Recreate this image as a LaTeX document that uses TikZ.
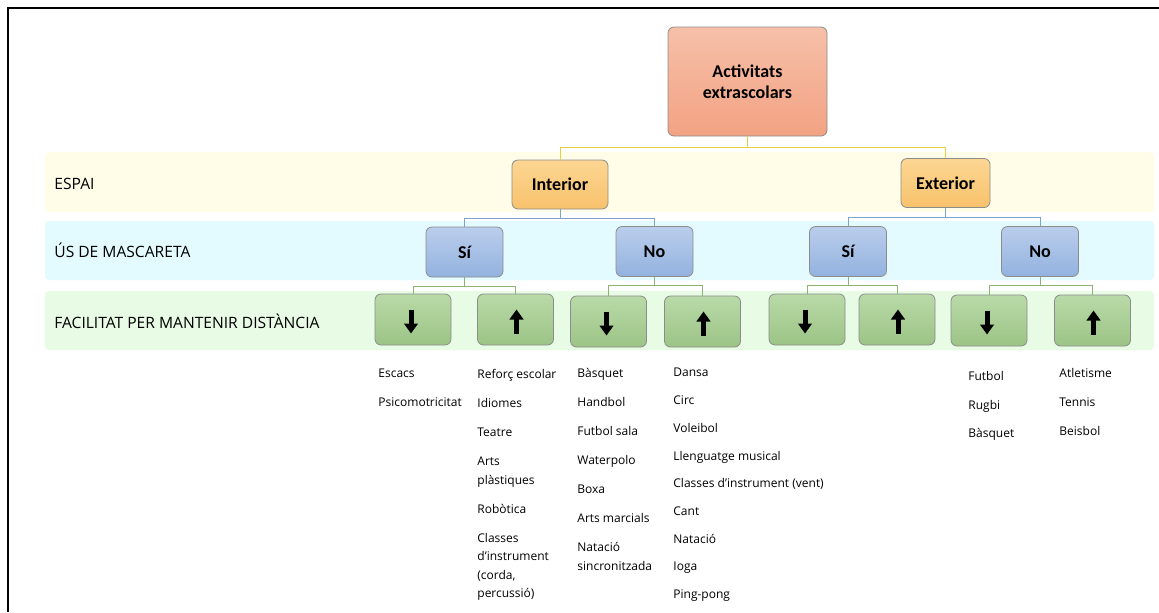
\documentclass[tikz,border=0pt]{standalone}
\usepackage{fontspec}
\setmainfont{Open Sans}
\newfontfamily\boxfont{Carlito}
\usetikzlibrary{calc,arrows.meta}

\definecolor{yband}{HTML}{FFFDE8}
\definecolor{bband}{HTML}{E3FBFE}
\definecolor{gband}{HTML}{E8FBE5}
\definecolor{rootA}{HTML}{F6C0A9}
\definecolor{rootB}{HTML}{F3A283}
\definecolor{orA}{HTML}{FCD693}
\definecolor{orB}{HTML}{F8C26C}
\definecolor{blA}{HTML}{BACEEC}
\definecolor{blB}{HTML}{93B2DF}
\definecolor{grA}{HTML}{B9DAA8}
\definecolor{grB}{HTML}{9CC486}
\definecolor{ylink}{HTML}{E5CF45}
\definecolor{blink}{HTML}{7DA4C8}
\definecolor{glink}{HTML}{8DB274}

\tikzset{
  box/.style={draw=black!45, line width=0.4pt, rounded corners=3pt, inner sep=0pt,
    align=center, font=\boxfont\bfseries\fontsize{9}{10.5}\selectfont},
  rootbox/.style={box, minimum width=79.5pt, minimum height=54.5pt, top color=rootA, bottom color=rootB},
  spacebox/.style={box, minimum height=24.5pt, top color=orA, bottom color=orB},
  maskbox/.style={box, minimum width=38.5pt, minimum height=25pt, top color=blA, bottom color=blB},
  distbox/.style={box, minimum width=38pt, minimum height=25.5pt, top color=grA, bottom color=grB},
  rowlabel/.style={anchor=west, inner sep=0pt, font=\fontsize{7.8}{9}\selectfont},
  actlist/.style={anchor=north west, inner sep=0pt, align=left, font=\fontsize{6}{9.25}\selectfont},
  fatarrow/.style={line width=2.5pt, -{Triangle[length=5pt,width=6.8pt]}},
}

\begin{document}
\begin{tikzpicture}[x=0.5pt,y=-0.5pt]
    \useasboundingbox (0,0) rectangle (1159,612);
    \draw[line width=1pt] (8,612)--(8,8)--(1159,8);

    % bands
    \fill[yband,rounded corners=2pt] (45,152) rectangle (1154,212);
    \fill[bband,rounded corners=2pt] (45,221) rectangle (1154,280);
    \fill[gband,rounded corners=2pt] (45,291) rectangle (1154,350);
    \node[rowlabel] (lespai) at (54,184) {ESPAI};
    \node[rowlabel] (lmask) at (54,250) {ÚS DE MASCARETA};
    \node[rowlabel] (ldist) at (54,321) {FACILITAT PER MANTENIR DISTÀNCIA};

    % tree
    \node[rootbox] (root) at (747.5,81.5) {Activitats\\extrascolars};
    \node[spacebox,minimum width=48pt] (int) at (560,184.5) {Interior};
    \node[spacebox,minimum width=44.5pt] (ext) at (945.5,183) {Exterior};
    \node[maskbox] (intS) at (464.5,252) {Sí};
    \node[maskbox] (intN) at (654.5,251.5) {No};
    \node[maskbox] (extS) at (848,251.5) {Sí};
    \node[maskbox] (extN) at (1040,251.5) {No};
    \node[distbox] (intSd) at (413,319.5) {};
    \node[distbox] (intSu) at (515.5,319.5) {};
    \node[distbox] (intNd) at (608.5,321.5) {};
    \node[distbox] (intNu) at (702.5,321.5) {};
    \node[distbox] (extSd) at (807,319.5) {};
    \node[distbox] (extSu) at (897,319.5) {};
    \node[distbox] (extNd) at (989,320.5) {};
    \node[distbox] (extNu) at (1092.5,320.5) {};

    \foreach \n in {int,ext}
      \draw[ylink] (root.south) -- ++(0,11) -| (\n.north);
    \foreach \p/\c in {int/intS,int/intN,ext/extS,ext/extN}
      \draw[blink] (\p.south) -- ++(0,9) -| (\c.north);
    \foreach \p in {intS,intN,extS,extN} {
      \draw[glink] (\p.south) -- ++(0,8.5) -| (\p d.north);
      \draw[glink] (\p.south) -- ++(0,8.5) -| (\p u.north);
    }

    % arrows
    \foreach \n in {intSd,intNd,extSd,extNd}
      \draw[fatarrow] ($(\n.center)+(-2,-10)$) -- ($(\n.center)+(-2,14)$);
    \foreach \n in {intSu,intNu,extSu,extNu}
      \draw[fatarrow] ($(\n.center)+(1,14)$) -- ($(\n.center)+(1,-10)$);

    % activities
    \node[actlist] (c1) at (378,369) {Escacs\\[5.25pt]Psicomotricitat};
    \node[actlist] (c2) at (477,369) {Reforç escolar\\[5.25pt]Idiomes\\[5.25pt]Teatre\\[5.25pt]Arts\\plàstiques\\[5.25pt]Robòtica\\[5.25pt]Classes\\d’instrument\\(corda,\\percussió)};
    \node[actlist] (c3) at (577,368) {Bàsquet\\[5.25pt]Handbol\\[5.25pt]Futbol sala\\[5.25pt]Waterpolo\\[5.25pt]Boxa\\[5.25pt]Arts marcials\\[5.25pt]Natació\\sincronitzada};
    \node[actlist] (c4) at (673,368) {Dansa\\[4.6pt]Circ\\[4.6pt]Voleibol\\[4.6pt]Llenguatge musical\\[4.6pt]Classes d’instrument (vent)\\[4.6pt]Cant\\[4.6pt]Natació\\[4.6pt]Ioga\\[4.6pt]Ping-pong};
    \node[actlist] (c5) at (968,371) {Futbol\\[5pt]Rugbi\\[5pt]Bàsquet};
    \node[actlist] (c6) at (1059,368) {Atletisme\\[5.25pt]Tennis\\[5.25pt]Beisbol};
\end{tikzpicture}
\end{document}
